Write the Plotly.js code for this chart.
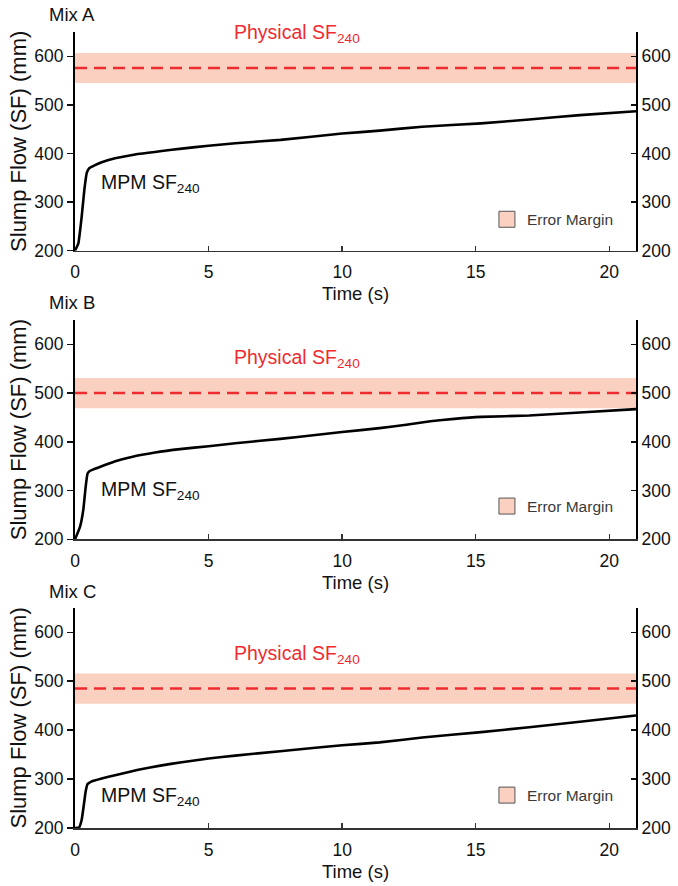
<!DOCTYPE html>
<html>
<head>
<meta charset="utf-8">
<script src="https://cdn.plot.ly/plotly-3.0.1.min.js"></script>
<style>
html,body{margin:0;padding:0;background:#fff;}
#chart{width:678px;height:886px;}
</style>
</head>
<body>
<div id="chart"></div>
<script>
// ---- data ----
const mixNames = ["Mix A", "Mix B", "Mix C"];
const timeA = [0,0.125,0.25,0.35,0.44,0.52,0.75,1,1.5,2.25,3.25,4,5,6,7.7,10,11.4,13,15.2,17,18.9,21];
const sfA   = [200,215,270,325,360,369,376,382,390,398,405,410,416,421,428,441,447,455,462,470,479,487];
const timeB = [0,0.19,0.31,0.4,0.47,0.55,0.62,1.0,1.25,1.7,2.12,3.0,3.93,5,6,7.68,9,10,11.4,12.4,13.3,14.2,15.2,17,18.9,21];
const sfB   = [200,226,260,308,335,340,342,350,355,363,369,378,385,391,397,406,414,420,428,435,442,447,451,454,460,467];
const timeC = [0,0.15,0.25,0.34,0.4,0.47,0.55,0.62,1.0,1.5,2.37,3.25,3.93,5,6,7.68,9,10,11.4,13,15.2,17,18.9,21];
const sfC   = [200,201,217,251,275,290,293,295,301,308,319,328,334,342,348,357,364,369,375,385,396,406,417,430];
const physicalSF = [576, 500, 485];
const errorMargin = [31, 31, 31];
const timeSpan = [0, 21];
const mpmLabelPos = [[0.9, 339], [0.9, 301], [0.9, 265]];
const physLabelOffset = 70;
const xTicks = [0, 5, 10, 15, 20];
const yTicks = [200, 300, 400, 500, 600];
const yRange = [200, 650];

// ---- styling ----
const FONT = "Liberation Sans, Arial, Helvetica, sans-serif";
const RED = "#ee2b2f";
const BAND = "#fad0c0";
const times = [timeA, timeB, timeC];
const sfs = [sfA, sfB, sfC];
const domains = [[0.7253, 1], [0.3627, 0.6383], [0, 0.2766]];
const mixLabelY = [1.0214, 0.6596, 0.2965];
const legendY = [0.7642, 0.4039, 0.0408];

const traces = [];
const layout = {
  width: 678, height: 886,
  margin: {l: 75, r: 42, t: 32, b: 58},
  paper_bgcolor: "#fff", plot_bgcolor: "#fff",
  font: {family: FONT, size: 17, color: "#111"},
  showlegend: true,
  annotations: [],
  hovermode: false
};

for (let i = 0; i < 3; i++) {
  const xa = i === 0 ? "x" : "x" + (i + 1);
  const yl = i === 0 ? "y" : "y" + (2 * i + 1);
  const yr = "y" + (2 * i + 2);
  const legName = i === 0 ? "legend" : "legend" + (i + 1);
  const lo = physicalSF[i] - errorMargin[i];
  const hi = physicalSF[i] + errorMargin[i];

  traces.push({
    type: "scatter", mode: "lines", xaxis: xa, yaxis: yl,
    x: [timeSpan[0], timeSpan[1], timeSpan[1], timeSpan[0]],
    y: [lo, lo, hi, hi],
    fill: "toself", fillcolor: BAND, line: {width: 0},
    showlegend: false, hoverinfo: "skip"
  });
  traces.push({
    type: "scatter", mode: "lines", xaxis: xa, yaxis: yl,
    x: timeSpan, y: [physicalSF[i], physicalSF[i]],
    line: {color: RED, width: 2.5, dash: "12px,7px"},
    showlegend: false, hoverinfo: "skip"
  });
  traces.push({
    type: "scatter", mode: "lines", xaxis: xa, yaxis: yl,
    x: times[i], y: sfs[i],
    line: {color: "#000", width: 2.6, shape: "spline", smoothing: 0.4},
    showlegend: false, hoverinfo: "skip"
  });
  traces.push({
    type: "scatter", mode: "markers", xaxis: xa, yaxis: yr,
    x: [null], y: [null], name: "Error Margin",
    marker: {symbol: "square", size: 16, color: BAND, line: {color: "#555", width: 1}},
    showlegend: true, legend: legName, hoverinfo: "skip"
  });

  const xKey = i === 0 ? "xaxis" : "xaxis" + (i + 1);
  const ylKey = i === 0 ? "yaxis" : "yaxis" + (2 * i + 1);
  const yrKey = "yaxis" + (2 * i + 2);

  layout[xKey] = {
    domain: [0, 1], anchor: yl, range: [0, 21], tickvals: xTicks,
    ticks: "inside", ticklen: 5, tickwidth: 1.5, tickcolor: "#333",
    ticklabelstandoff: 5,
    showline: true, linecolor: "#333", linewidth: 1.5,
    showgrid: false, zeroline: false,
    tickfont: {size: 17.5, color: "#111"},
    title: {text: "Time (s)", font: {size: 18.5, color: "#111"}, standoff: 6}
  };
  layout[ylKey] = {
    domain: domains[i], anchor: xa, range: yRange, tickvals: yTicks,
    ticks: "outside", ticklen: 6, tickwidth: 1.5, tickcolor: "#111",
    showline: true, linecolor: "#000", linewidth: 2,
    showgrid: false, zeroline: false,
    tickfont: {size: 17.5, color: "#111"},
    title: {text: "Slump Flow (SF) (mm)", font: {size: 22, color: "#111"}, standoff: 2}
  };
  layout[yrKey] = {
    overlaying: yl, side: "right", anchor: xa, range: yRange, tickvals: yTicks,
    ticks: "inside", ticklen: 5, tickwidth: 1.5, tickcolor: "#111",
    showline: true, linecolor: "#000", linewidth: 2,
    showgrid: false, zeroline: false,
    tickfont: {size: 17.5, color: "#111"}
  };
  layout[legName] = {
    x: 0.7343, y: legendY[i], xanchor: "left", yanchor: "middle",
    bgcolor: "rgba(0,0,0,0)", borderwidth: 0,
    font: {size: 15.5, color: "#3a3a3a", family: FONT}
  };

  layout.annotations.push({
    xref: "paper", yref: "paper", x: -0.0499, y: mixLabelY[i],
    xanchor: "left", yanchor: "middle", showarrow: false,
    text: mixNames[i], font: {size: 18.5, color: "#111"}
  });
  layout.annotations.push({
    xref: xa, yref: yl, x: 5.88, y: physicalSF[i] + physLabelOffset,
    xanchor: "left", yanchor: "middle", showarrow: false,
    text: "Physical SF<sub>240</sub>", font: {size: 19.5, color: RED}
  });
  layout.annotations.push({
    xref: xa, yref: yl, x: mpmLabelPos[i][0], y: mpmLabelPos[i][1],
    xanchor: "left", yanchor: "middle", showarrow: false,
    text: "MPM SF<sub>240</sub>", font: {size: 19.5, color: "#111"}
  });
}

Plotly.newPlot("chart", traces, layout, {staticPlot: true, displayModeBar: false});
</script>
</body>
</html>
